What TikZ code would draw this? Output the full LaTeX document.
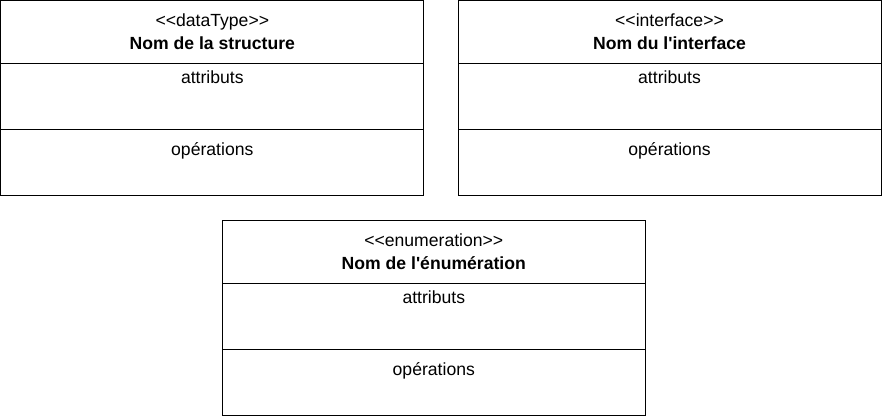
\documentclass[tikz,border=0pt]{standalone}
\usepackage{fontspec}
\setmainfont{Liberation Sans}[Ligatures=TeXOff]
\usetikzlibrary{positioning}

\tikzset{
  compart/.style={draw,line width=1pt,minimum width=423pt,minimum height=66pt,inner sep=0pt,outer sep=0pt},
  headcomp/.style={compart,minimum height=63pt},
  umltext/.style={anchor=base,inner sep=0pt,font=\fontsize{17.6}{20}\selectfont},
  umlname/.style={umltext,font=\fontsize{17.6}{20}\selectfont\bfseries},
}

\begin{document}
\begin{tikzpicture}[x=1pt,y=1pt]
    \useasboundingbox (0,0) rectangle (882,-417);

    % dataType
    \node[headcomp,anchor=north] (dtHead) at (212.3,-0.5) {};
    \node[compart,below=0pt of dtHead] (dtAttr) {};
    \node[compart,below=0pt of dtAttr] (dtOps) {};
    \node[umltext] (dtStereo) at ([yshift=-26pt]dtHead.north) {<<dataType>>};
    \node[umlname] (dtName) at ([yshift=-49pt]dtHead.north) {Nom de la structure};
    \node[umltext] (dtAttrText) at ([yshift=-20pt]dtAttr.north) {attributs};
    \node[umltext] (dtOpsText) at ([yshift=-25.5pt]dtOps.north) {opérations};

    % interface
    \node[headcomp,anchor=north] (ifHead) at (669.5,-0.5) {};
    \node[compart,below=0pt of ifHead] (ifAttr) {};
    \node[compart,below=0pt of ifAttr] (ifOps) {};
    \node[umltext] (ifStereo) at ([yshift=-26pt]ifHead.north) {<<interface>>};
    \node[umlname] (ifName) at ([yshift=-49pt]ifHead.north) {Nom du l'interface};
    \node[umltext] (ifAttrText) at ([yshift=-20pt]ifAttr.north) {attributs};
    \node[umltext] (ifOpsText) at ([yshift=-25.5pt]ifOps.north) {opérations};

    % enumeration
    \node[headcomp,anchor=north] (enHead) at (433.8,-220.5) {};
    \node[compart,below=0pt of enHead] (enAttr) {};
    \node[compart,below=0pt of enAttr] (enOps) {};
    \node[umltext] (enStereo) at ([yshift=-26pt]enHead.north) {<<enumeration>>};
    \node[umlname] (enName) at ([yshift=-49pt]enHead.north) {Nom de l'énumération};
    \node[umltext] (enAttrText) at ([yshift=-20pt]enAttr.north) {attributs};
    \node[umltext] (enOpsText) at ([yshift=-25.5pt]enOps.north) {opérations};
\end{tikzpicture}
\end{document}
